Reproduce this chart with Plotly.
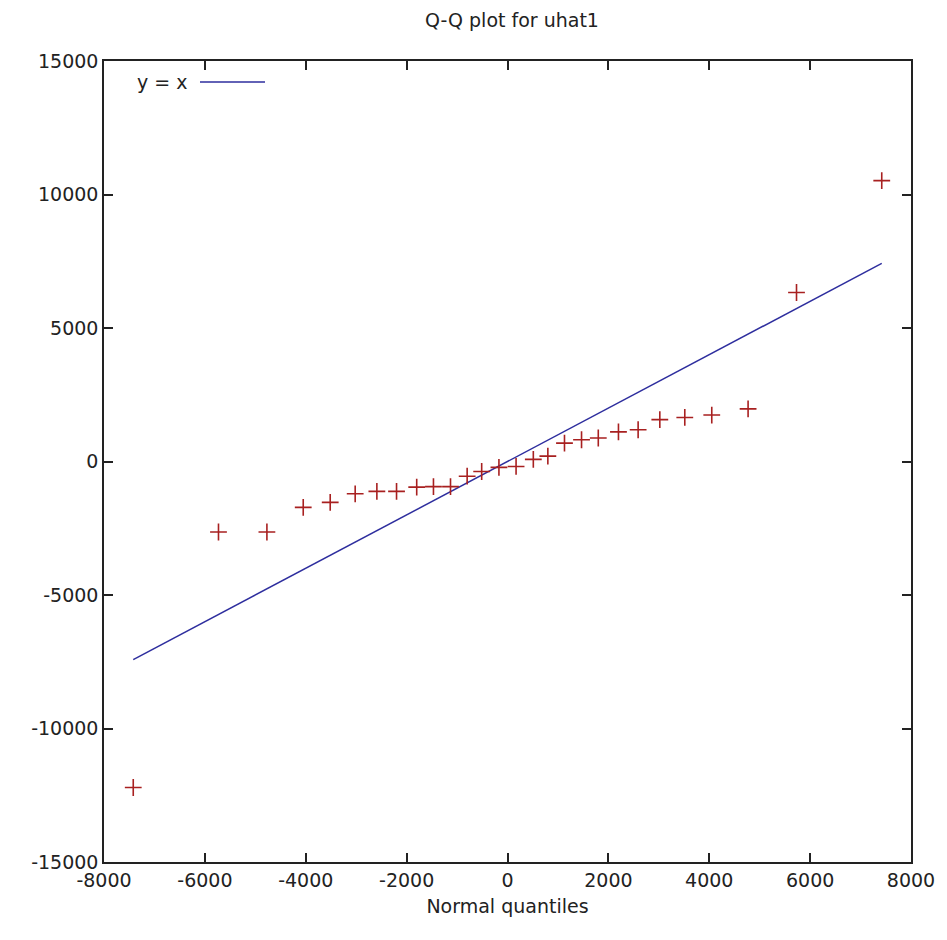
import plotly.graph_objects as go

# Normal quantiles (x) and sorted residuals uhat1 (y)
normal_quantiles = [-7420, -5730, -4770, -4050, -3515, -3020, -2590, -2200, -1800, -1468,
                    -1130, -800, -512, -170, 170, 512, 800, 1130, 1468, 1800,
                    2200, 2590, 3020, 3515, 4050, 4770, 5730, 7420]
uhat1 = [-12210, -2640, -2640, -1720, -1530, -1210, -1120, -1120, -960, -940,
         -940, -550, -375, -220, -185, 80, 200, 690, 815, 880,
         1110, 1190, 1570, 1650, 1740, 1970, 6330, 10520]
ref_x = [min(normal_quantiles), max(normal_quantiles)]
ref_y = ref_x

x_ticks = [-8000, -6000, -4000, -2000, 0, 2000, 4000, 6000, 8000]
x_labels = ["-8000", "-6000", "-4000", "-2000", "0", "2000", "4000", "6000", "8000"]
y_ticks = [-15000, -10000, -5000, 0, 5000, 10000, 15000]
y_labels = ["-15000", "-10000", "-5000", "0", "5000", "10000", "15000"]

FONT = "DejaVu Sans"
TXT = "#222222"
FS = 19

fig = go.Figure()
fig.add_trace(go.Scatter(x=ref_x, y=ref_y, mode="lines",
                         line=dict(color="#2e2e9e", width=1.5),
                         showlegend=False, hoverinfo="skip"))
fig.add_trace(go.Scatter(x=normal_quantiles, y=uhat1, mode="markers",
                         marker=dict(symbol="cross-thin", size=12,
                                     line=dict(color="#a82020", width=1.6)),
                         showlegend=False))

axis_common = dict(showgrid=False, zeroline=False, showline=True, mirror="ticks",
                   linecolor="#222222", linewidth=1.5, ticks="inside", ticklen=9,
                   tickwidth=1.5, tickcolor="#222222",
                   tickfont=dict(family=FONT, size=FS, color=TXT))

# page body adds an 8px offset; margins compensate
fig.update_layout(
    width=947, height=940,
    margin=dict(l=96, r=44, t=53, b=86),
    paper_bgcolor="white", plot_bgcolor="white",
    title=dict(text="Q-Q plot for uhat1", x=(512 - 8) / 947, xanchor="center",
               y=1 - 6 / 940, yanchor="top",
               font=dict(family=FONT, size=FS, color=TXT)),
    xaxis=dict(range=[-8000, 8000], tickvals=x_ticks, ticktext=x_labels,
               title=dict(text="Normal quantiles", standoff=10,
                          font=dict(family=FONT, size=FS, color=TXT)),
               **axis_common),
    yaxis=dict(range=[-15000, 15000], tickvals=y_ticks, ticktext=y_labels,
               **axis_common),
    showlegend=False,
)

# gnuplot-style key: text then line sample
fig.add_annotation(x=(190 - 104) / 807, y=(862 - 82) / 801, xref="paper", yref="paper",
                   text="y = x", showarrow=False, xanchor="right", yanchor="middle",
                   font=dict(family=FONT, size=FS, color=TXT))
fig.add_shape(type="line", xref="paper", yref="paper",
              x0=(200 - 104) / 807, x1=(265 - 104) / 807,
              y0=(862 - 82) / 801, y1=(862 - 82) / 801,
              line=dict(color="#2e2e9e", width=1.5))

fig.write_html("out.html")
